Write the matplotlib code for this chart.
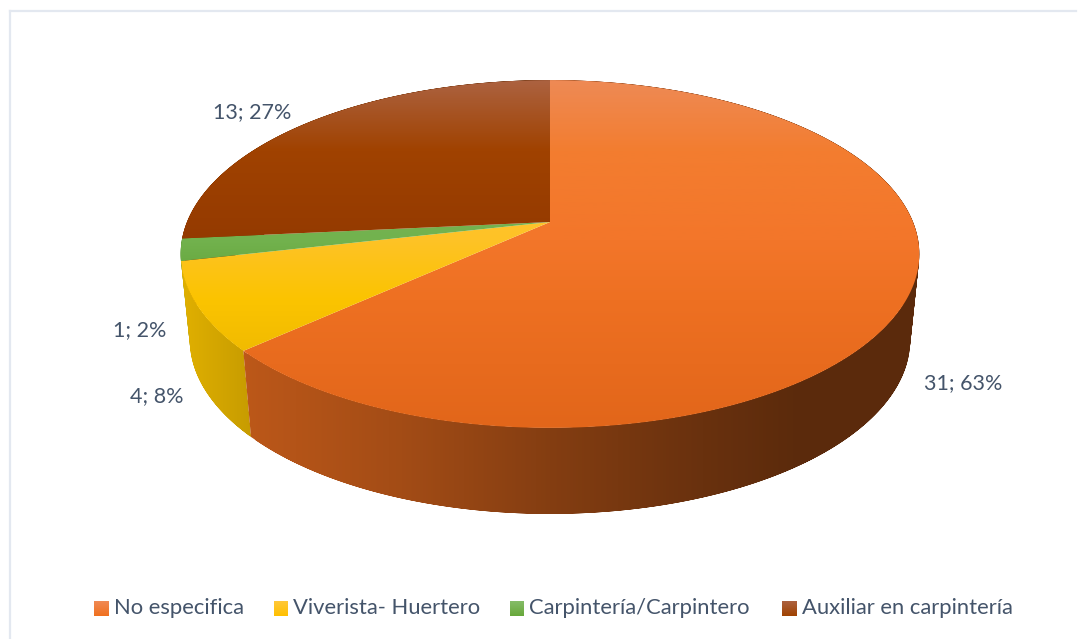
import numpy as np
import matplotlib
matplotlib.use("Agg")
import matplotlib.pyplot as plt
from matplotlib.colors import LinearSegmentedColormap, to_rgb
from matplotlib.patches import PathPatch
from matplotlib.path import Path

categories = ["No especifica", "Viverista- Huertero", "Carpintería/Carpintero", "Auxiliar en carpintería"]
values = [31, 4, 1, 13]

# top face colours at the picture rows in top_y
top_y = [80, 150, 240, 300, 428]
top_colors = [
    ["#EE8A55", "#F37D30", "#F3762A", "#EE7022", "#E2661A"],
    ["#FFC83A", "#FFC83A", "#FEC226", "#FBC400", "#E3AD00"],
    ["#7DB85C", "#7DB85C", "#72B24E", "#5E9E30", "#5E9E30"],
    ["#AC6240", "#A04200", "#943A00", "#943A00", "#943A00"],
]
swatch_colors = [
    ["#F08A55", "#F0701E"],
    ["#FFC83A", "#FFC000"],
    ["#85BC68", "#68A83A"],
    ["#AC6240", "#A04200"],
]
wall_base = ["#F07020", "#FFC800", "#70AD47", "#A04200"]
label_pos = [(963, 383), (157, 396), (140, 330), (252, 112)]
legend_x = [94, 273.5, 509.5, 782]

plt.rcParams["font.family"] = ["Lato", "DejaVu Sans"]
text_color = "#44546A"

W, H = 1078, 639
fig = plt.figure(figsize=(W / 100, H / 100), dpi=100)
ax = fig.add_axes([0, 0, 1, 1])
ax.set_xlim(0, W)
ax.set_ylim(H, 0)
ax.axis("off")


def project(theta, a, b, cy, k=0.184, cx=550):
    # theta clockwise from 12 o'clock, disc seen in perspective
    u = np.sin(theta)
    v = -np.cos(theta)
    w = 1 - k * v
    return cx + a * u / w, cy + b * v / w


def top_pt(theta):
    return project(theta, 363, 168, 222)


def bottom_pt(theta):
    return project(theta, 354, 168, 308)


def fill_gradient(path, colors, stops, vertical, z):
    p = PathPatch(path, fc="none", ec="none", zorder=z)
    ax.add_patch(p)
    lo, hi = stops[0], stops[-1]
    pos = [(s - lo) / (hi - lo) for s in stops]
    cmap = LinearSegmentedColormap.from_list("r", list(zip(pos, colors)))
    grad = np.linspace(0, 1, 256)
    if vertical:
        im = ax.imshow(grad[:, None], cmap=cmap, extent=(0, W, hi, lo), aspect="auto", zorder=z)
    else:
        im = ax.imshow(grad[None, :], cmap=cmap, extent=(lo, hi, H, 0), aspect="auto", zorder=z)
    im.set_clip_path(p)


def swept_wall(t):
    # wall as small quads, all wound the same way, so the side silhouette is filled
    tx, ty = top_pt(t)
    bx, by = bottom_pt(t)
    verts, codes = [], []
    for j in range(len(t) - 2):
        q = [(tx[j], ty[j]), (tx[j + 2], ty[j + 2]), (bx[j + 2], by[j + 2]), (bx[j], by[j])]
        xs = np.array([c[0] for c in q])
        ys = np.array([c[1] for c in q])
        area = np.sum(xs * np.roll(ys, -1) - np.roll(xs, -1) * ys)
        if area < 0:
            q = q[::-1]
        verts += q + [q[0]]
        codes += [Path.MOVETO, Path.LINETO, Path.LINETO, Path.LINETO, Path.CLOSEPOLY]
    return Path(verts, codes)


angles = np.cumsum([0] + values) / sum(values) * 2 * np.pi

# walls, back slices first so the front ones cover them
wall_x = [180, 250, 400, 550, 700, 800, 920]
wall_f = [0.88, 0.78, 0.68, 0.55, 0.44, 0.38, 0.38]
for i in reversed(range(len(values))):
    t = np.linspace(angles[i], angles[i + 1], 200)
    cols = [tuple(np.array(to_rgb(wall_base[i])) * f) for f in wall_f]
    fill_gradient(swept_wall(t), cols, wall_x, False, 2 + (len(values) - i) * 0.1)

# top face
for i in range(len(values)):
    t = np.linspace(angles[i], angles[i + 1], 300)
    tx, ty = top_pt(t)
    pts = np.column_stack([np.r_[550, tx, 550], np.r_[222, ty, 222]])
    fill_gradient(Path(pts, closed=True), top_colors[i], top_y, True, 3)

# data labels
for i, v in enumerate(values):
    pct = round(100 * v / sum(values))
    ax.text(label_pos[i][0], label_pos[i][1], f"{v}; {pct}%", color=text_color,
            fontsize=15.5, ha="center", va="center", zorder=5)

# legend
for i, name in enumerate(categories):
    x0 = legend_x[i]
    sw = np.array([(x0, 601), (x0 + 14.5, 601), (x0 + 14.5, 616), (x0, 616), (x0, 601)])
    fill_gradient(Path(sw, closed=True), swatch_colors[i], [601, 616], True, 4)
    ax.text(x0 + 19.5, 608, name, color=text_color, fontsize=15.85, ha="left", va="center", zorder=5)

ax.set_xlim(0, W)
ax.set_ylim(H, 0)

# chart frame
ax.plot([9.5, 9.5], [H, 11], color="#E3E8F0", lw=1.6, zorder=1)
ax.plot([9.5, 1076], [11, 11], color="#E3E8F0", lw=1.6, zorder=1)

fig.savefig("out.png", dpi=100)
